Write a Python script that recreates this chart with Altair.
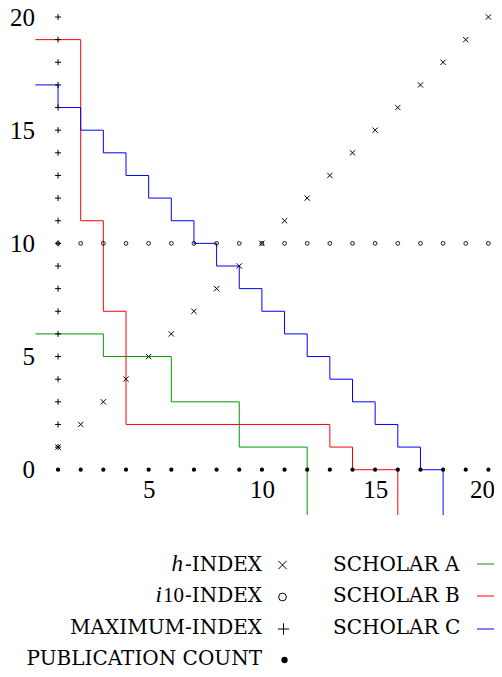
import altair as alt
import pandas as pd

# ---------------- data ----------------
pub_x = [1, 2, 3, 4, 5, 6, 7, 8, 9, 10, 11, 12, 13, 14, 15, 16, 17, 18, 19, 20]
pub_y = [0, 0, 0, 0, 0, 0, 0, 0, 0, 0, 0, 0, 0, 0, 0, 0, 0, 0, 0, 0]

h_x = [1, 2, 3, 4, 5, 6, 7, 8, 9, 10, 11, 12, 13, 14, 15, 16, 17, 18, 19, 20]
h_y = [1, 2, 3, 4, 5, 6, 7, 8, 9, 10, 11, 12, 13, 14, 15, 16, 17, 18, 19, 20]

i10_x = [1, 2, 3, 4, 5, 6, 7, 8, 9, 10, 11, 12, 13, 14, 15, 16, 17, 18, 19, 20]
i10_y = [10, 10, 10, 10, 10, 10, 10, 10, 10, 10, 10, 10, 10, 10, 10, 10, 10, 10, 10, 10]

max_x = [1, 1, 1, 1, 1, 1, 1, 1, 1, 1, 1, 1, 1, 1, 1, 1, 1, 1, 1, 1]
max_y = [1, 2, 3, 4, 5, 6, 7, 8, 9, 10, 11, 12, 13, 14, 15, 16, 17, 18, 19, 20]

scholar_a_x = [0, 3, 6, 9, 12]
scholar_a_y = [6, 5, 3, 1, -2]
scholar_b_x = [0, 2, 3, 4, 13, 14, 16]
scholar_b_y = [19, 11, 7, 2, 1, 0, -2]
scholar_c_x = [0, 1, 2, 3, 4, 5, 6, 7, 8, 9, 10, 11, 12, 13, 14, 15, 16, 17, 18]
scholar_c_y = [17, 16, 15, 14, 13, 12, 11, 10, 9, 8, 7, 6, 5, 4, 3, 2, 1, 0, -2]

scholars = ["SCHOLAR A", "SCHOLAR B", "SCHOLAR C"]
scholar_colors = ["#009900", "#ff0000", "#0000ff"]

x_ticks = [5, 10, 15, 20]
y_ticks = [0, 5, 10, 15, 20]

# ---------------- tables ----------------
lines_df = pd.concat([
    pd.DataFrame({"x": scholar_a_x, "y": scholar_a_y, "who": scholars[0]}),
    pd.DataFrame({"x": scholar_b_x, "y": scholar_b_y, "who": scholars[1]}),
    pd.DataFrame({"x": scholar_c_x, "y": scholar_c_y, "who": scholars[2]}),
], ignore_index=True)

W, H = 453, 498
xs = alt.Scale(domain=[0, 20], nice=False, zero=False)
ys = alt.Scale(domain=[-2, 20], nice=False, zero=False)

TICK_FONT = "Liberation Serif"
CAPS_FONT = "DejaVu Serif"
CAPS_SIZE = 20

x_enc = alt.X("x:Q", scale=xs, axis=alt.Axis(
    values=x_ticks, ticks=False, domain=False, grid=False, title=None,
    labelFont=TICK_FONT, labelFontSize=25, labelColor="black",
    labelPadding=8, offset=-45.3, labelAngle=0,
    labelFlush=True, labelFlushOffset=6))
y_enc = alt.Y("y:Q", scale=ys, axis=alt.Axis(
    values=y_ticks, ticks=False, domain=False, grid=False, title=None,
    labelFont=TICK_FONT, labelFontSize=25, labelColor="black",
    labelPadding=1, labelFlush=False))

lines = alt.Chart(lines_df).mark_line(interpolate="step-after", strokeWidth=1).encode(
    x=x_enc, y=y_enc,
    color=alt.Color("who:N", scale=alt.Scale(domain=scholars, range=scholar_colors), legend=None),
    detail="who:N",
)

PLUS = "M-1,0L1,0M0,-1L0,1"
CROSS = "M-1,-1L1,1M-1,1L1,-1"


def pts(xv, yv, **mk):
    return alt.Chart(pd.DataFrame({"x": xv, "y": yv})).mark_point(**mk).encode(
        x=alt.X("x:Q", scale=xs), y=alt.Y("y:Q", scale=ys))


pub_pts = pts(pub_x, pub_y, shape="circle", size=18, filled=True, color="black", opacity=1)
h_pts = pts(h_x, h_y, shape=CROSS, size=28, filled=False, stroke="black", strokeWidth=1, opacity=1)
i10_pts = pts(i10_x, i10_y, shape="circle", size=14, filled=False, stroke="black", strokeWidth=0.9, opacity=1)
max_pts = pts(max_x, max_y, shape=PLUS, size=36, filled=False, stroke="black", strokeWidth=1, opacity=1)

# ---------------- custom legend ----------------
ORX, ORY = 35.4, 17.0  # page position of the plot origin (x=0, y=20)


def px(v):
    return v - ORX


def py(v):
    return v - ORY


def text(label, x, y, align="right", font=CAPS_FONT, size=CAPS_SIZE, style="normal"):
    return alt.Chart(pd.DataFrame({"t": [label]})).mark_text(
        align=align, baseline="alphabetic", font=font, fontSize=size,
        fontStyle=style, color="black").encode(
        x=alt.value(px(x)), y=alt.value(py(y)), text="t:N")


def sym(x, y, **mk):
    return alt.Chart(pd.DataFrame({"t": [0]})).mark_point(opacity=1, **mk).encode(
        x=alt.value(px(x)), y=alt.value(py(y)))


def rule(x1, x2, y, color):
    return alt.Chart(pd.DataFrame({"t": [0]})).mark_rule(color=color, strokeWidth=1).encode(
        x=alt.value(px(x1)), x2=alt.value(px(x2)), y=alt.value(py(y)))


RIGHT = 262
row_base = [571, 602, 634, 665]
row_mid = [565, 597, 629, 660]

legend_layers = [
    text("-INDEX", RIGHT, row_base[0]),
    text("h", 183, row_base[0], font="Liberation Serif", size=23, style="italic"),
    text("-INDEX", RIGHT, row_base[1]),
    text("10", 184, row_base[1], font="Liberation Serif", size=21),
    text("i", 162, row_base[1], font="Liberation Serif", size=23, style="italic"),
    text("MAXIMUM-INDEX", RIGHT, row_base[2]),
    text("PUBLICATION COUNT", RIGHT, row_base[3]),
    sym(282.5, row_mid[0], shape=CROSS, size=70, filled=False, stroke="black", strokeWidth=1),
    sym(282.5, row_mid[1], shape="circle", size=60, filled=False, stroke="black", strokeWidth=1),
    sym(283.5, row_mid[2], shape=PLUS, size=130, filled=False, stroke="black", strokeWidth=1),
    sym(284.5, row_mid[3], shape="circle", size=40, filled=True, color="black"),
]

right_base = [571, 602, 634]
right_line = [564, 596, 629]
for i, name in enumerate(scholars):
    legend_layers.append(text(name, 333, right_base[i], align="left"))
    legend_layers.append(rule(477, 505, right_line[i], scholar_colors[i]))

chart = alt.layer(lines, i10_pts, h_pts, max_pts, pub_pts, *legend_layers).properties(
    width=W, height=H,
    autosize=alt.AutoSizeParams(type="none"),
    padding={"left": 27.4, "top": 9, "right": 5.6, "bottom": 154},
    background="white",
).configure_view(stroke=None)

chart.save("out.html", embed_options={"renderer": "svg", "actions": False})
